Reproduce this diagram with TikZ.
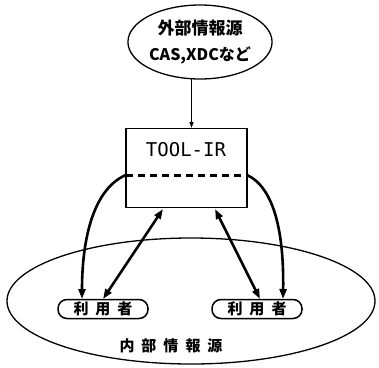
\documentclass[tikz,border=0pt]{standalone}
\usepackage{fontspec}
\setmainfont{Noto Sans CJK JP}
\newfontfamily\toolfont{DejaVu Sans Mono}
\usetikzlibrary{arrows.meta,shapes.geometric}
\begin{document}
\begin{tikzpicture}[x=1pt,y=-1pt,
  thin line/.style={line width=1.3pt},
  heavy/.style={line width=2.6pt,-{Triangle[length=10pt,width=7pt]}},
  heavyboth/.style={line width=2.6pt,{Triangle[length=10pt,width=7pt]}-{Triangle[length=10pt,width=7pt]}},
  user/.style={draw,line width=1.5pt,rounded corners=9pt,minimum width=90pt,minimum height=19pt,inner sep=0pt,font=\bfseries\fontsize{15}{15}\selectfont}]
\useasboundingbox (0,0) rectangle (379,367);
% big ellipse
\draw[thin line] (191,301) ellipse [x radius=184, y radius=63];
\node[font=\bfseries\fontsize{15}{15}\selectfont] (inner) at (171,346) {内\hspace{7pt}部\hspace{7pt}情\hspace{7pt}報\hspace{7pt}源};
% top ellipse
\node[draw,thin line,ellipse,minimum width=104pt,minimum height=74pt,inner sep=0pt,align=center,font=\bfseries\fontsize{17}{26}\selectfont] (ext) at (200,42) {外部情報源\\{\fontsize{16}{16}\selectfont CAS,XDCなど}};
% box
\node[draw,line width=1.5pt,minimum width=121pt,minimum height=79pt,inner sep=0pt] (box) at (186.5,168) {};
\node[font=\toolfont\fontsize{19}{19}\selectfont] (tool) at (186,150) {TOOL-IR};
\coordinate (dl) at (126,175);
\coordinate (dr) at (247,175);
\draw[line width=3pt,dash pattern=on 7pt off 5pt] (dl) -- (dr);
\coordinate (extb) at (191.5,79);
\draw[line width=1.3pt,-{Triangle[length=6pt,width=4pt]}] (extb) -- (191.5,128);
% users
\node[user] (u1) at (103,309) {利\hspace{7pt}用\hspace{7pt}者};
\node[user] (u2) at (257,309) {利\hspace{7pt}用\hspace{7pt}者};
% arrows
\coordinate (b1) at (163,209);
\coordinate (b2) at (215,209);
\draw[heavyboth] (b1) -- (103,299);
\draw[heavyboth] (b2) -- (260,299);
\draw[heavy] (dl) .. controls (95,188) and (82,235) .. (82,299);
\draw[heavy] (dr) .. controls (275,188) and (284,235) .. (283,299);
\end{tikzpicture}
\end{document}
